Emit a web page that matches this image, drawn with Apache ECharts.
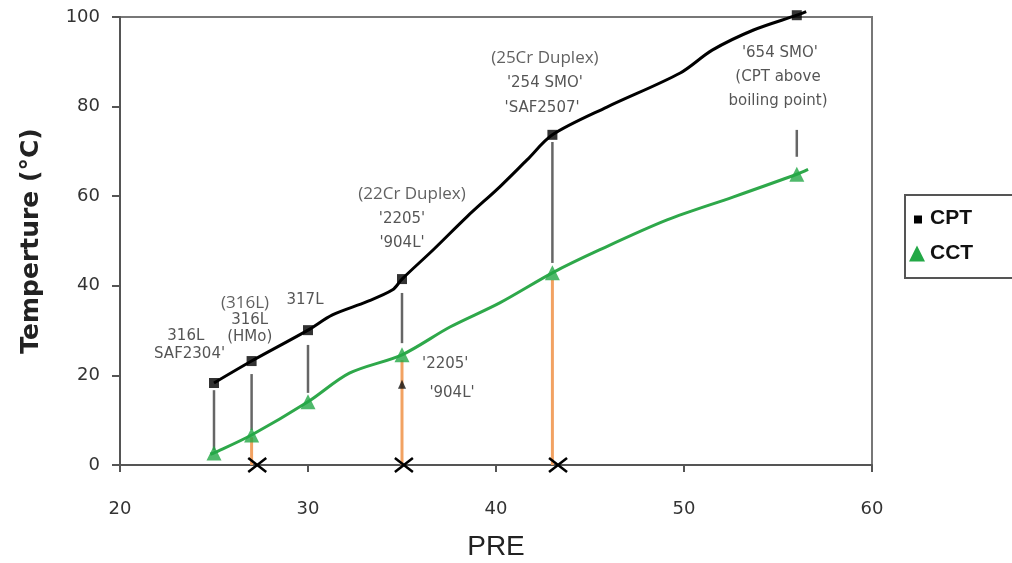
<!DOCTYPE html>
<html>
<head>
<meta charset="utf-8">
<script src="https://cdn.jsdelivr.net/npm/echarts@6/dist/echarts.min.js"></script>
<style>html,body{margin:0;padding:0;background:#fff;}#c{width:1012px;height:563px;}</style>
</head>
<body>
<div id="c"></div>
<script>
// ---- data ----
const pre = [25, 27, 30, 35, 43, 56];
const cptValues = [18.3, 23.2, 30.1, 41.5, 73.7, 100.4];
const cctValues = [2.7, 6.7, 14.1, 24.6, 42.9, 64.9];
// hand-drawn curves traced through the markers
const cptTraceX = [25, 27, 30, 31.3, 33.1, 34.5, 35, 36.65, 38.45, 40.2, 41.65, 43, 45.9, 49.8, 51.5, 53.7, 56, 56.5];
const cptTraceY = [18.3, 23.2, 30.1, 33.5, 36.4, 39.1, 41.5, 48.0, 55.4, 62.1, 68.1, 73.7, 79.9, 87.5, 92.6, 97.1, 100.4, 101.2];
const cctTraceX = [24.8, 25, 27, 30, 32.2, 35, 37.55, 40.2, 43, 45.5, 49.1, 52.6, 56, 56.6];
const cctTraceY = [2.4, 2.7, 6.7, 14.1, 20.5, 24.6, 30.8, 36.2, 42.9, 48.0, 54.7, 59.8, 64.9, 66.0];
// vertical connectors CPT -> CCT [pre, top, bottom]
const connectors = [[25, 16.7, 3.3], [27, 20.3, 7.8], [30, 26.8, 16.1], [35, 38.4, 27.2], [43, 72.1, 45.1], [56, 74.8, 68.8]];
// CCT -> axis drops [pre, top, bottom]
const drops = [[27, 6.2, 0], [35, 23.4, 0], [43, 41.3, 0]];
const crosses = [27.3, 35.1, 43.3];
const arrowAt = [[35, 18]];
const xTicks = [20, 30, 40, 50, 60];
const yTicks = [0, 20, 40, 60, 80, 100];
// annotations [pre, temperature, text, style]
const annotations = [
  [23.5, 28.8, '316L', 'a'],
  [23.7, 24.8, "SAF2304'", 'a'],
  [26.65, 36.2, '(316L)', 'b'],
  [26.9, 32.4, '316L', 'a'],
  [26.9, 28.6, '(HMo)', 'a'],
  [29.84, 36.8, '317L', 'a'],
  [35.53, 60.5, '(22Cr Duplex)', 'b'],
  [35.0, 54.9, "'2205'", 'a'],
  [35.0, 49.6, "'904L'", 'a'],
  [37.3, 22.5, "'2205'", 'a'],
  [37.66, 16.1, "'904L'", 'a'],
  [42.6, 90.8, '(25Cr Duplex)', 'b'],
  [42.6, 85.3, "'254 SMO'", 'a'],
  [42.45, 79.7, "'SAF2507'", 'a'],
  [55.1, 92.0, "'654 SMO'", 'a'],
  [55.0, 86.6, '(CPT above', 'a'],
  [55.0, 81.3, 'boiling point)', 'a']
];

const zip = (a, b) => a.map((v, i) => [v, b[i]]);

const chart = echarts.init(document.getElementById('c'), null, {renderer: 'canvas'});

const segRender = (color, width) => function (params, api) {
  const p1 = api.coord([api.value(0), api.value(1)]);
  const p2 = api.coord([api.value(0), api.value(2)]);
  return {type: 'line', shape: {x1: p1[0], y1: p1[1], x2: p2[0], y2: p2[1]}, style: {stroke: color, lineWidth: width}};
};

const option = {
  animation: false,
  backgroundColor: '#fff',
  grid: {left: 120, right: 140, top: 17, bottom: 98, show: true, borderColor: '#777', borderWidth: 2, backgroundColor: '#fff',
    containLabel: false, outerBoundsMode: 'none'},
  legend: {
    orient: 'vertical', left: 905, top: 195,
    borderColor: '#555', borderWidth: 2, borderRadius: 0,
    padding: [13, 60, 14, 4], itemGap: 14,
    itemWidth: 16, itemHeight: 16,
    textStyle: {fontFamily: 'Liberation Sans', fontWeight: 'bold', fontSize: 21, color: '#111'},
    data: [
      {name: 'CPT', icon: 'path://M0,0L0.01,0L0.01,0.01Z M5,5L13,5L13,13L5,13Z M16,16L16.01,16L16.01,16.01Z', itemStyle: {color: '#000'}},
      {name: 'CCT', icon: 'triangle', itemStyle: {color: '#23a846'}}
    ]
  },
  xAxis: {
    type: 'value', min: xTicks[0], max: xTicks[xTicks.length - 1], interval: 10,
    name: 'PRE', nameLocation: 'middle', nameGap: 68, nameMoveOverlap: false,
    nameTextStyle: {fontFamily: 'Liberation Sans', fontSize: 28, color: '#222'},
    axisLine: {show: true, lineStyle: {color: '#555', width: 2}},
    axisTick: {show: true, length: 7, lineStyle: {color: '#555', width: 2}},
    axisLabel: {margin: 35, fontFamily: 'DejaVu Sans', fontSize: 18, color: '#333'},
    splitLine: {show: false}
  },
  yAxis: {
    type: 'value', min: yTicks[0], max: yTicks[yTicks.length - 1], interval: 20,
    name: 'Temperture (°C)', nameLocation: 'middle', nameRotate: 90, nameGap: 76,
    nameTextStyle: {fontFamily: 'DejaVu Sans', fontWeight: 'bold', fontSize: 25, color: '#222'},
    axisLine: {show: true, lineStyle: {color: '#555', width: 2}},
    axisTick: {show: true, length: 8, lineStyle: {color: '#555', width: 2}},
    axisLabel: {margin: 20, fontFamily: 'DejaVu Sans', fontSize: 18, color: '#333'},
    splitLine: {show: false}
  },
  series: [
    {type: 'custom', name: 'conn', renderItem: segRender('#666', 2.5), data: connectors, encode: {x: 0, y: [1, 2]}, clip: false, silent: true, z: 2},
    {type: 'custom', name: 'drop', renderItem: segRender('#f2a262', 3), data: drops, encode: {x: 0, y: [1, 2]}, clip: false, silent: true, z: 2},
    {type: 'line', name: 'CPT', data: zip(cptTraceX, cptTraceY), showSymbol: false, symbol: 'none', smooth: 0.3, clip: false,
      lineStyle: {color: '#000', width: 3}, itemStyle: {color: '#000'}, z: 3},
    {type: 'line', name: 'CCT', data: zip(cctTraceX, cctTraceY), showSymbol: false, symbol: 'none', smooth: 0.3, clip: false,
      lineStyle: {color: '#2ea84a', width: 3}, itemStyle: {color: '#23a846'}, z: 3},
    {type: 'scatter', name: 'CPT', data: zip(pre, cptValues), symbol: 'rect', symbolSize: 10, clip: false, itemStyle: {color: '#000'}, z: 4},
    {type: 'scatter', name: 'CCT', data: zip(pre, cctValues), symbol: 'triangle', symbolSize: 15, clip: false, itemStyle: {color: '#23a846'}, z: 4},
    {type: 'scatter', name: 'arrow', data: arrowAt, symbol: 'triangle', symbolSize: [8, 9], itemStyle: {color: '#111'}, z: 4, silent: true},
    {type: 'custom', name: 'cross', data: crosses.map(v => [v, 0]), encode: {x: 0, y: 1}, clip: false, silent: true, z: 5,
      renderItem: function (params, api) {
        const p = api.coord([api.value(0), api.value(1)]);
        const w = 9, h = 7;
        return {type: 'group', children: [
          {type: 'line', shape: {x1: p[0] - w, y1: p[1] - h, x2: p[0] + w, y2: p[1] + h}, style: {stroke: '#000', lineWidth: 2.5}},
          {type: 'line', shape: {x1: p[0] - w, y1: p[1] + h, x2: p[0] + w, y2: p[1] - h}, style: {stroke: '#000', lineWidth: 2.5}}
        ]};
      }},
    {type: 'scatter', name: 'notes', silent: true, symbolSize: 0, z: 6, clip: false,
      data: annotations.map(a => ({
        value: [a[0], a[1]],
        label: {
          show: true, position: 'inside', formatter: a[2],
          fontFamily: a[3] === 'b' ? 'Open Sans' : 'DejaVu Sans',
          fontSize: a[3] === 'b' ? 17 : 15,
          color: a[3] === 'b' ? '#3a3a3a' : '#2a2a2a'
        }
      }))}
  ]
};
chart.setOption(option);
</script>
</body>
</html>
